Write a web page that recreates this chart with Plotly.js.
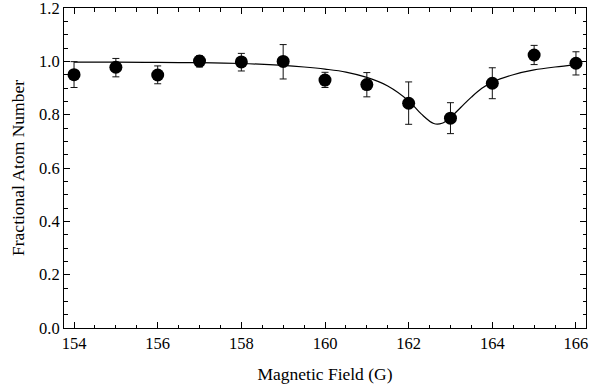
<!DOCTYPE html>
<html>
<head>
<meta charset="utf-8">
<script src="https://cdn.plot.ly/plotly-3.0.1.min.js"></script>
<style>html,body{margin:0;padding:0;background:#fff;}#chart{width:589px;height:389px;}</style>
</head>
<body>
<div id="chart"></div>
<script>
// Measured data
const fieldG = [154, 155, 156, 157, 158, 159, 160, 161, 162, 163, 164, 165, 166];
const atomFraction = [0.950, 0.978, 0.949, 1.001, 0.998, 1.000, 0.930, 0.913, 0.843, 0.787, 0.918, 1.024, 0.993];
const errPlus = [0.049, 0.033, 0.034, 0.020, 0.032, 0.063, 0.029, 0.045, 0.080, 0.058, 0.058, 0.036, 0.043];
const errMinus = [0.048, 0.036, 0.033, 0.022, 0.034, 0.066, 0.028, 0.046, 0.079, 0.058, 0.058, 0.036, 0.044];

// Fit curve
const fitField = [154, 155, 156, 157, 158, 159, 159.5, 160, 160.5, 161, 161.5, 162, 162.3, 162.6, 162.8, 163, 163.25, 163.5, 163.75, 164, 164.5, 165, 165.5, 166];
const fitFraction = [0.997, 0.997, 0.996, 0.995, 0.992, 0.985, 0.979, 0.971, 0.960, 0.940, 0.908, 0.852, 0.803, 0.767, 0.768, 0.790, 0.828, 0.866, 0.899, 0.922, 0.950, 0.968, 0.979, 0.987];

const fontFam = '"Liberation Serif", "Times New Roman", serif';

const traces = [
  {
    x: fitField, y: fitFraction, type: 'scatter', mode: 'lines',
    line: {color: '#000', width: 1.2, shape: 'spline', smoothing: 1},
    hoverinfo: 'skip', showlegend: false
  },
  {
    x: fieldG, y: atomFraction, type: 'scatter', mode: 'markers',
    marker: {color: '#000', size: 13},
    error_y: {type: 'data', symmetric: false, array: errPlus, arrayminus: errMinus, color: '#111', thickness: 1, width: 3.5},
    showlegend: false
  }
];

const axisCommon = {
  showgrid: false, zeroline: false, showline: true, linecolor: '#000', linewidth: 1,
  mirror: 'allticks', ticks: 'inside', ticklen: 6, tickwidth: 1, tickcolor: '#000',
  ticklabeloverflow: 'allow',
  tickfont: {family: fontFam, size: 16.5, color: '#000'}
};

const layout = {
  width: 589, height: 389,
  margin: {l: 64, r: 3, t: 8, b: 61},
  paper_bgcolor: '#fff', plot_bgcolor: '#fff',
  font: {family: fontFam, color: '#000'},
  xaxis: Object.assign({}, axisCommon, {
    range: [153.76, 166.24], tick0: 154, dtick: 2,
    minor: {dtick: 0.5, ticks: 'inside', ticklen: 3.5, tickcolor: '#000', tickwidth: 1},
    title: {text: 'Magnetic Field (G)', font: {family: fontFam, size: 17.5, color: '#000'}, standoff: 15}
  }),
  yaxis: Object.assign({}, axisCommon, {
    range: [0, 1.2002], tick0: 0, dtick: 0.2, tickformat: '.1f',
    minor: {dtick: 0.05, ticks: 'inside', ticklen: 3.5, tickcolor: '#000', tickwidth: 1},
    title: {text: 'Fractional Atom Number', font: {family: fontFam, size: 17.5, color: '#000'}, standoff: 9}
  })
};

Plotly.newPlot('chart', traces, layout, {displayModeBar: false, staticPlot: true});
</script>
</body>
</html>
